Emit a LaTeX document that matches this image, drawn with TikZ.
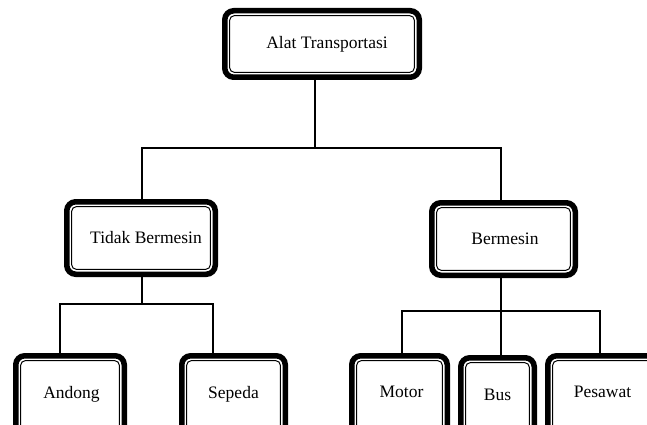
\documentclass[tikz,border=0pt]{standalone}
\usepackage{fontspec}
\setmainfont{Liberation Serif}
\begin{document}
\begin{tikzpicture}[x=1pt,y=-1pt,
  box/.style={draw=black, fill=white, line width=5.5pt, rounded corners=9pt, inner sep=0pt,
    font=\fontsize{17.5}{20}\selectfont,
    path picture={\draw[line width=1pt, rounded corners=5pt]
      ([shift={(4.8pt,4.8pt)}]path picture bounding box.south west) rectangle
      ([shift={(-4.8pt,-4.8pt)}]path picture bounding box.north east);}},
  conn/.style={line width=1.1pt, draw=black}]
\useasboundingbox (0,0) rectangle (647,425);
\clip (0,0) rectangle (647,425);
\fill[white] (0,0) rectangle (647,425);
% coordinates for connector routing
\coordinate (j1) at (315,148);
\coordinate (j2) at (142,304);
\coordinate (j3) at (501,311);
% boxes
\node[box, minimum width=194.5pt, minimum height=66.5pt] (top) at (322,44) {\hspace*{10pt}Alat Transportasi};
\node[box, minimum width=148.5pt, minimum height=72.5pt] (tb) at (141,238) {\hspace*{10pt}Tidak Bermesin};
\node[box, minimum width=143.5pt, minimum height=72.5pt] (bm) at (503.5,239) {\hspace*{3pt}Bermesin};
\node[box, minimum width=108.5pt, minimum height=81.5pt] (an) at (70,396.5) {\raisebox{9pt}{\hspace*{3pt}Andong}};
\node[box, minimum width=103.5pt, minimum height=81.5pt] (se) at (233.5,396.5) {\raisebox{9pt}{Sepeda}};
\node[box, minimum width=95.5pt, minimum height=81.5pt] (mo) at (399.5,396.5) {\raisebox{9pt}{\hspace*{4pt}Motor}};
\node[box, minimum width=73.5pt, minimum height=79.5pt] (bu) at (497.5,397.5) {\raisebox{6pt}{Bus}};
\node[box, minimum width=109.5pt, minimum height=81.5pt] (pe) at (602.5,396.5) {\raisebox{9pt}{Pesawat}};
% top level
\draw[conn] (top.south -| j1) -- (j1);
\draw[conn] (tb.north -| j2) -- ([yshift=-3pt]j1 -| j2) |- (j1) -| (bm.north -| j3);
% left subtree
\draw[conn] (tb.south -| j2) -- (j2);
\draw[conn] (an.north -| 60,0) |- (j2) -| (se.north -| 213,0);
% right subtree
\draw[conn] (bm.south -| j3) -- (j3);
\draw[conn] (mo.north -| 402,0) |- (j3) -| (pe.north -| 600,0);
\draw[conn] (j3) -- (bu.north -| j3);
\end{tikzpicture}
\end{document}
